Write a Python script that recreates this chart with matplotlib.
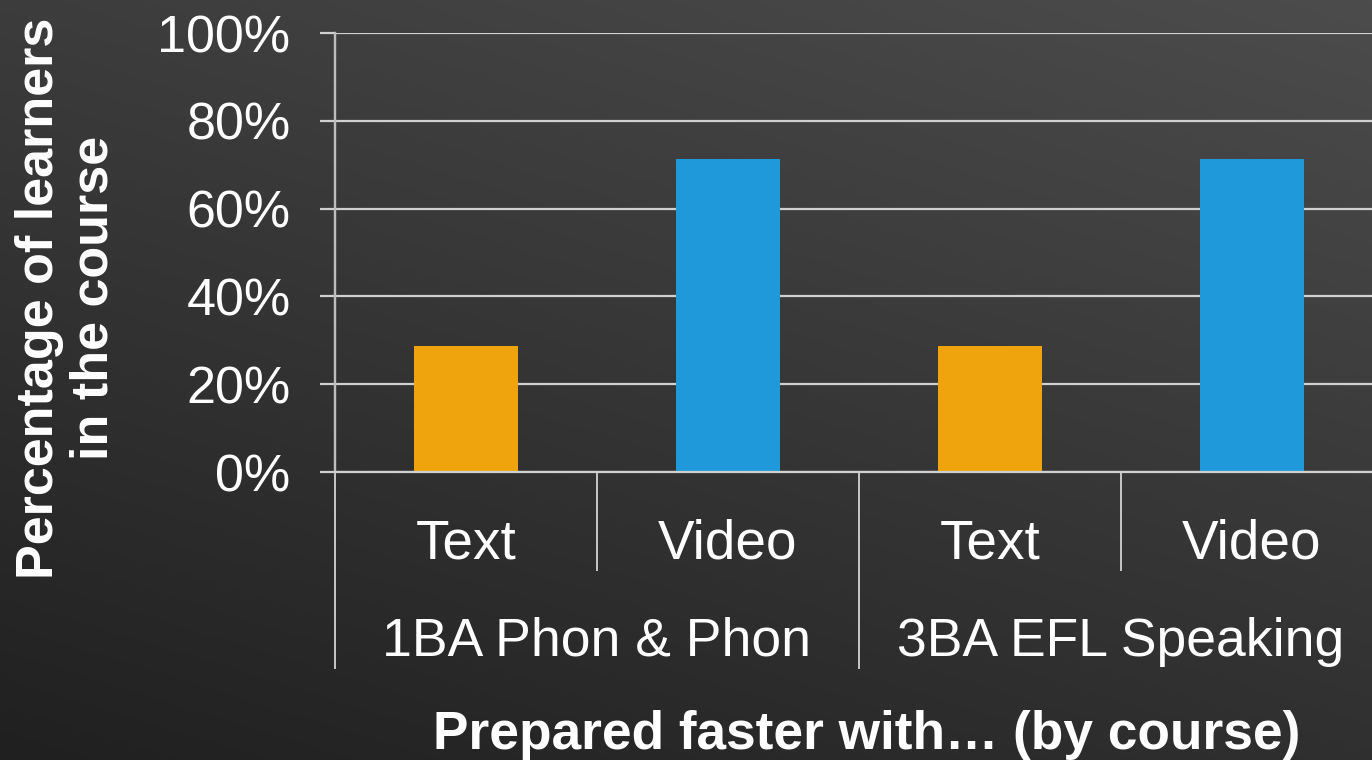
import numpy as np
import matplotlib
matplotlib.use("Agg")
import matplotlib.pyplot as plt
import matplotlib.transforms as mtransforms
from matplotlib.ticker import PercentFormatter

# ---- data ----
bar_labels = ["Text", "Video", "Text", "Video"]
group_labels = ["1BA Phon & Phon", "3BA EFL Speaking"]
values = [28.6, 71.4, 28.6, 71.4]
bar_colors = ["#EFA40D", "#1F99D9", "#EFA40D", "#1F99D9"]
y_ticks = [0, 20, 40, 60, 80, 100]
y_label = "Percentage of learners\nin the course"
x_label = "Prepared faster with\u2026 (by course)"

W, H = 1372, 760
fig = plt.figure(figsize=(W / 100, H / 100), dpi=100)

# background gradient (lighter top-right, darker bottom-left)
bg = fig.add_axes([0, 0, 1, 1], zorder=-10)
yy, xx = np.mgrid[0:1:200j, 0:1:300j]
t = 0.5 * xx + 0.9 * yy
t = (t - t.min()) / (t.max() - t.min())
dark, light = 0x20, 0x4c
g = (dark + (light - dark) * t) / 255.0
img = np.dstack([g, g, g])
bg.imshow(img, origin="lower", aspect="auto", extent=[0, 1, 0, 1])
bg.set_axis_off()

left = 335 / W
width = 1048 / W
bottom = 1 - 472 / H
height = 439 / H
ax = fig.add_axes([left, bottom, width, height])
ax.patch.set_alpha(0)

x = np.arange(len(values))
ax.bar(x, values, width=0.4, color=bar_colors, zorder=3)
ax.set_xlim(-0.5, len(values) - 0.5)
ax.set_ylim(0, 100)
ax.set_yticks(y_ticks)
ax.yaxis.set_major_formatter(PercentFormatter(decimals=0))
grid_c = "#d0d0d0"
ax.grid(axis="y", color=grid_c, linewidth=1.6, zorder=1)
ax.tick_params(axis="y", length=11, width=1.6, color=grid_c, pad=21,
               labelsize=37.5, labelcolor="white")
for lab in ax.get_yticklabels():
    lab.set_fontfamily("Liberation Sans")
ax.set_xticks([])
for s in ["top", "right", "bottom"]:
    ax.spines[s].set_visible(False)
ax.spines["left"].set_color("#bdbdbd")
ax.spines["left"].set_linewidth(1.6)
ax.axhline(0, color=grid_c, linewidth=1.6, zorder=4, clip_on=False)

trans = mtransforms.blended_transform_factory(ax.transData, ax.transAxes)
# bar labels
for xi, lab in zip(x, bar_labels):
    ax.text(xi, -0.166, lab, transform=trans, ha="center", va="center",
            color="white", fontsize=39.5, fontfamily="Liberation Sans")
# group labels
n_per_group = len(values) // len(group_labels)
for gi, lab in enumerate(group_labels):
    cx = gi * n_per_group + (n_per_group - 1) / 2
    ax.text(cx, -0.387, lab, transform=trans, ha="center", va="center",
            color="white", fontsize=38.5, fontfamily="Liberation Sans")
# separators
sep_c = "#c8c8c8"
for xi in range(len(values) + 1):
    xs = xi - 0.5
    if xi % n_per_group == 0:
        y0 = -0.446
    else:
        y0 = -0.223
    ax.plot([xs, xs], [0, y0], transform=trans, color=sep_c, linewidth=1.4,
            clip_on=False)
ax.plot([-0.5, -0.5], [0, 1], transform=trans, color="#bdbdbd", linewidth=1.6,
        clip_on=False)

fig.text(67 / W, 1 - 298 / H, y_label, rotation=90, ha="center", va="center",
         color="white", fontsize=37.5, fontweight="bold", linespacing=1.15,
         fontfamily="Liberation Sans")
fig.text(867 / W, 1 - 735 / H, x_label, ha="center", va="center",
         color="white", fontsize=38.3, fontweight="bold",
         fontfamily="Liberation Sans")

fig.savefig("out.png", dpi=100)
